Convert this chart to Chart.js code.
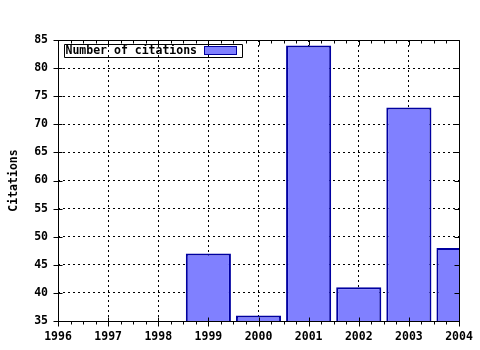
<!DOCTYPE html>
<html>
<head>
<meta charset="utf-8">
<script src="https://cdn.jsdelivr.net/npm/chart.js@4/dist/chart.umd.min.js"></script>
<style>
html,body{margin:0;padding:0;background:#fff;}
#wrap{width:480px;height:350px;position:relative;}
</style>
</head>
<body>
<div id="wrap"><canvas id="c" width="480" height="350"></canvas></div>
<script>
const years = [1999, 2000, 2001, 2002, 2003, 2004];
const citations = [47, 36, 84, 41, 73, 48];
const seriesLabel = 'Number of citations';
const yAxisTitle = 'Citations';
const xRange = [1996, 2004];
const yRange = [35, 85];

const FONT = {family: "'DejaVu Sans Mono', monospace", size: 11.5, weight: 'bold'};

const framePlugin = {
  id: 'frame',
  afterDraw(chart) {
    const {ctx, chartArea: a, scales: {x, y}} = chart;
    ctx.save();
    ctx.strokeStyle = '#000';
    ctx.lineWidth = 1;
    ctx.beginPath();
    const L = Math.round(a.left) + 0.5, R = Math.round(a.right) + 0.5;
    const T = Math.round(a.top) + 0.5, B = Math.round(a.bottom) + 0.5;
    ctx.rect(L, T, R - L, B - T);
    for (let v = yRange[0]; v <= yRange[1]; v += 5) {
      const py = Math.round(y.getPixelForValue(v)) + 0.5;
      ctx.moveTo(L - 5, py); ctx.lineTo(L + 4, py);
      ctx.moveTo(R - 5, py); ctx.lineTo(R, py);
    }
    for (let v = xRange[0]; v <= xRange[1] + 1e-9; v += 0.25) {
      const px = Math.round(x.getPixelForValue(v)) + 0.5;
      const major = Math.abs(v - Math.round(v)) < 1e-9;
      if (major) {
        ctx.moveTo(px, B - 4); ctx.lineTo(px, B + 5);
        ctx.moveTo(px, T); ctx.lineTo(px, T + 5);
      } else {
        ctx.moveTo(px, B); ctx.lineTo(px, B + 3);
        ctx.moveTo(px, T); ctx.lineTo(px, T + 3);
      }
    }
    ctx.stroke();

    const ds = chart.data.datasets[0];
    ctx.font = `${FONT.weight} ${FONT.size}px ${FONT.family}`;
    ctx.textBaseline = 'middle';
    ctx.textAlign = 'left';
    ctx.fillStyle = '#000';
    const lx = L + 6, ly = T + 4;
    const tw = ctx.measureText(ds.label).width;
    const boxW = Math.round(tw + 46), boxH = 13;
    ctx.beginPath();
    ctx.rect(lx, ly, boxW, boxH);
    ctx.stroke();
    ctx.fillText(ds.label, lx + 1, ly + boxH / 2 + 0.5);
    const sx = lx + boxW - 38;
    ctx.fillStyle = ds.backgroundColor;
    ctx.fillRect(sx, ly + 2, 32, 8);
    ctx.strokeStyle = ds.borderColor;
    ctx.strokeRect(sx, ly + 2, 32, 8);
    ctx.restore();
  }
};

const gridColor = (ctx) => {
  const v = ctx.tick && ctx.tick.value;
  const s = ctx.scale;
  if (v === s.min || v === s.max) return 'rgba(0,0,0,0)';
  return '#000';
};

new Chart(document.getElementById('c'), {
  type: 'bar',
  data: {
    datasets: [{
      label: seriesLabel,
      data: years.map((yr, i) => ({x: yr, y: citations[i]})),
      backgroundColor: '#8080ff',
      borderColor: '#0000a0',
      borderWidth: 2,
      borderSkipped: 'start',
      barPercentage: 0.9,
      categoryPercentage: 1.0,
      clip: 0
    }]
  },
  options: {
    responsive: false,
    animation: false,
    devicePixelRatio: 1,
    layout: {padding: {top: 40, right: 21, left: 0, bottom: 0}},
    plugins: {legend: {display: false}, tooltip: {enabled: false}},
    scales: {
      x: {
        type: 'linear',
        min: xRange[0], max: xRange[1],
        offset: false,
        ticks: {stepSize: 1, color: '#000', font: FONT, padding: 9, maxRotation: 0,
                callback: (v) => String(v)},
        grid: {color: gridColor, drawTicks: false, offset: false, lineWidth: 1},
        border: {display: false, dash: [2, 3]},
        afterFit: (s) => { s.height = 29; s.paddingLeft = 0; s.paddingRight = 0; }
      },
      y: {
        min: yRange[0], max: yRange[1],
        ticks: {stepSize: 5, color: '#000', font: FONT, padding: 10},
        grid: {color: gridColor, drawTicks: false, lineWidth: 1},
        border: {display: false, dash: [2, 3]},
        title: {display: true, text: yAxisTitle, color: '#000', font: FONT, padding: {top: 7, bottom: 0}},
        afterFit: (s) => { s.width = 58; s.paddingTop = 0; s.paddingBottom = 0; }
      }
    }
  },
  plugins: [framePlugin]
});
</script>
</body>
</html>
